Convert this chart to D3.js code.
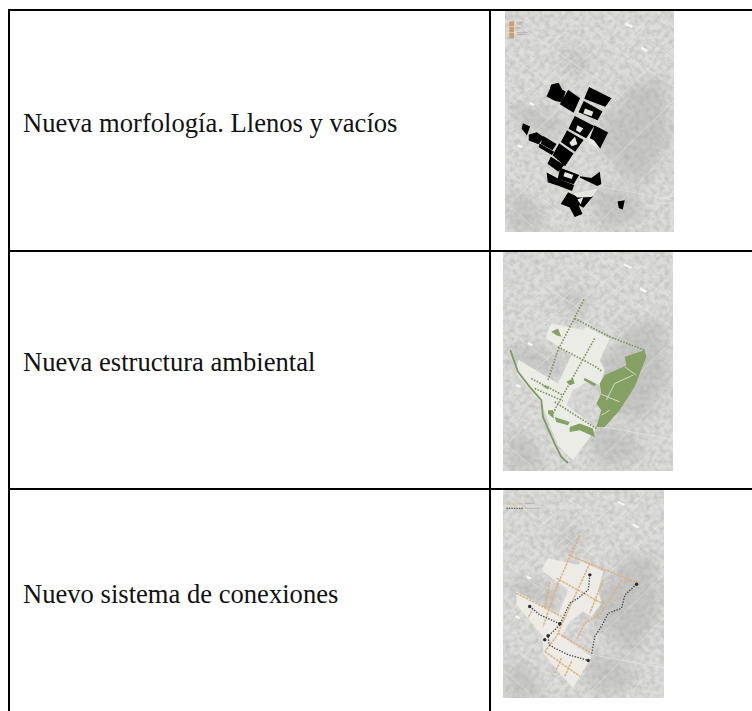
<!DOCTYPE html>
<html>
<head>
<meta charset="utf-8">
<style>
  html, body { margin: 0; padding: 0; background: #fff; overflow: hidden; }
  svg { display: block; }
  .label { font-family: "Liberation Serif", serif; font-size: 26.6px; fill: #111; }
</style>
<script src="https://cdn.jsdelivr.net/npm/d3@7"></script>
</head>
<body>
<script>
var rowLabels = ["Nueva morfología. Llenos y vacíos", "Nueva estructura ambiental", "Nuevo sistema de conexiones"];

var streets = [
  [[45,250],[300,30]], [[45,330],[390,30]], [[45,480],[520,30]], [[60,610],[552,130]], [[150,695],[552,300]],
  [[300,695],[552,440]], [[430,695],[552,570]], [[210,240],[420,60]], [[110,300],[260,170]],
  [[60,60],[400,290]], [[50,160],[300,340]], [[45,260],[180,360]], [[230,50],[552,260]],
  [[340,40],[552,175]], [[60,520],[240,660]], [[50,610],[130,680]], [[340,560],[552,600]],
  [[380,150],[470,60]], [[440,200],[530,120]], [[70,420],[120,370]], [[80,560],[170,480]]
];
var brightSpots = [
  [[408,68],[430,78],[425,84],[405,74]], [[455,140],[475,150],[470,156],[452,146]],
  [[85,432],[100,438],[95,444],[82,438]], [[120,305],[135,312],[130,318],[118,312]]
];
var darkPatches = [
  [[60,310],[150,320],[170,380],[100,390]], [[230,140],[300,170],[280,230],[210,200]],
  [[400,260],[520,230],[540,420],[460,560],[370,500]], [[350,320],[420,340],[380,480],[320,440]],
  [[300,560],[420,570],[470,650],[330,690]], [[60,560],[140,610],[170,695],[60,695]],
  [[160,330],[230,360],[200,420],[140,390]]
];

var blackBlocks = [
  [[185,255],[205,250],[215,270],[225,275],[215,305],[195,300],[172,288],[180,270]],
  [[235,272],[268,295],[250,335],[212,312]],
  [[298,263],[362,295],[345,318],[285,295]],
  [[282,305],[335,335],[322,358],[268,335]],
  [[255,350],[310,378],[288,412],[238,385]],
  [[315,378],[352,398],[330,442],[300,418]],
  [[232,393],[278,420],[255,452],[215,425]],
  [[208,432],[248,460],[225,495],[190,465]],
  [[100,372],[118,380],[110,402],[97,385]],
  [[118,405],[140,398],[160,412],[145,430],[118,420]],
  [[160,410],[197,432],[187,448],[155,430]],
  [[150,432],[190,455],[185,462],[148,440]],
  [[183,472],[220,495],[205,512],[175,490]],
  [[172,520],[210,540],[250,555],[245,570],[205,555],[175,545]],
  [[212,505],[265,525],[250,550],[205,535]],
  [[270,530],[305,535],[328,518],[332,550],[322,555]],
  [[235,578],[260,590],[305,590],[280,620],[262,610],[275,640],[255,648],[240,620],[215,610]],
  [[385,605],[402,602],[397,625],[388,622]]
];
var blockHoles = [
  [[285,325],[310,335],[305,348],[280,340]], [[225,515],[250,524],[245,536],[220,528]],
  [[262,375],[280,385],[270,398],[258,390]], [[238,428],[255,410],[262,432],[245,438]],
  [[295,412],[312,420],[330,445],[295,430]], [[250,580],[325,565],[305,590],[262,592]],
  [[262,598],[280,590],[272,612]]
];
var legendSwatches = [[[58,64],[72,64],[72,78],[58,78]], [[58,80],[72,80],[72,96],[58,96]], [[58,98],[72,98],[72,115],[58,115]]];
var legendNotes = [[[80,67],[100,67]], [[80,72],[96,72]], [[80,84],[96,84]], [[80,98],[112,98]], [[80,103],[106,103]]];

var whiteAreaGreen = [[170,285],[185,250],[280,270],[290,260],[360,295],[330,360],[345,390],[330,435],[300,420],[250,450],[230,495],[320,565],[250,660],[205,615],[155,490],[80,400],[85,358],[205,430],[245,345],[170,295]];
var parks = [
  [[405,350],[465,330],[470,350],[435,440],[390,510],[345,560],[320,560],[335,510],[320,490],[335,460],[330,430],[345,405],[390,385],[410,375]],
  [[185,275],[205,265],[215,290],[200,285]],
  [[230,425],[250,415],[255,430],[240,435]],
  [[285,413],[320,432],[315,438],[282,420]],
  [[155,435],[180,440],[175,448]],
  [[175,510],[190,510],[192,535],[175,520]],
  [[195,530],[240,545],[235,555],[200,545]],
  [[240,560],[270,550],[310,565],[315,590],[270,570],[240,575]]
];
var parkPaths = [[[350,480],[375,430],[430,405]], [[335,462],[390,485]], [[405,380],[440,405]], [[335,525],[360,510]]];
var river = [[62,330],[85,395],[120,440],[155,480],[160,530],[195,610],[215,650],[235,668]];
var greenWalks = [
  [[283,178],[205,330],[175,420]], [[255,235],[360,290],[465,330]], [[315,295],[200,500],[185,530]],
  [[205,320],[315,378],[335,392]], [[125,415],[220,465]], [[135,445],[220,482]], [[195,485],[320,565]]
];

var whiteAreaLinks = [[158,265],[175,235],[265,255],[275,245],[340,275],[325,330],[335,370],[305,410],[280,395],[240,425],[215,470],[305,530],[250,625],[210,580],[160,520],[160,470],[80,375],[80,335],[205,405],[235,330],[160,275]];
var orangeLinks = [
  [[270,165],[205,310],[160,440]], [[235,225],[445,310]], [[300,250],[200,470],[165,515]],
  [[80,340],[215,410]], [[200,295],[335,370]], [[180,305],[165,385]], [[395,300],[335,400],[285,430],[260,480]],
  [[205,460],[305,520]], [[165,515],[270,590]], [[215,535],[195,580]], [[245,545],[225,590]],
  [[130,385],[115,415]], [[340,300],[300,400]]
];
var darkLinks = [
  [[300,285],[295,330],[265,355],[240,370],[210,435],[175,470],[178,495],[195,505],[235,525],[295,542]],
  [[120,380],[150,405],[210,432]],
  [[440,313],[405,345],[395,385],[355,400],[340,430],[315,470],[305,525]]
];
var stops = [[300,285],[295,542],[120,380],[210,432],[175,468],[165,480],[440,313]];
var linkLegend = [[[50,72],[100,72]], [[50,85],[100,85]]];
var linkNotes = [[[105,70],[135,70]], [[105,85],[150,85]]];

var width = 752, height = 711;
var svg = d3.select("body").append("svg").attr("width", width).attr("height", height);
var defs = svg.append("defs");

var grain = defs.append("filter").attr("id", "grain").attr("x", 0).attr("y", 0).attr("width", 1).attr("height", 1);
grain.append("feTurbulence").attr("type", "fractalNoise").attr("baseFrequency", 0.2).attr("numOctaves", 3).attr("seed", 7);
grain.append("feColorMatrix").attr("values", "0 0 0 0 0.42  0 0 0 0 0.42  0 0 0 0 0.41  2.4 0 0 0 -0.85");
grain.append("feGaussianBlur").attr("stdDeviation", 0.7);
defs.append("filter").attr("id", "soft").append("feGaussianBlur").attr("stdDeviation", 0.7);
defs.append("filter").attr("id", "haze").attr("x", "-30%").attr("y", "-30%").attr("width", "160%").attr("height", "160%")
  .append("feGaussianBlur").attr("stdDeviation", 7);

var panels = [
  { x: [505, 674], y: [10, 232], domainX: [45, 552], domainY: [30, 695], draw: drawBlocks },
  { x: [503, 673], y: [251, 471], domainX: [40, 550], domainY: [33, 692], draw: drawGreen },
  { x: [503, 664], y: [489, 698], domainX: [40, 522], domainY: [27, 655], draw: drawLinks }
];

var line = function(xs, ys) {
  return d3.line().x(function(d) { return xs(d[0]); }).y(function(d) { return ys(d[1]); });
};

function shapes(g, data, xs, ys, fill) {
  var path = line(xs, ys).curve(d3.curveLinearClosed);
  return g.append("g").selectAll("path").data(data).enter().append("path")
    .attr("d", path).attr("fill", fill);
}

function strokes(g, data, xs, ys, color, w, dash) {
  return g.append("g").selectAll("path").data(data).enter().append("path")
    .attr("d", line(xs, ys)).attr("fill", "none").attr("stroke", color)
    .attr("stroke-width", w).attr("stroke-dasharray", dash || null);
}

function drawBlocks(g, xs, ys) {
  shapes(g, blackBlocks, xs, ys, "#050505").attr("stroke", "#050505").attr("stroke-width", 1.2);
  shapes(g, blockHoles, xs, ys, "#e6e6e2");
  shapes(g, legendSwatches, xs, ys, "#d09a6a");
  strokes(g, legendNotes, xs, ys, "#9a9a9a", 0.6);
}

function drawGreen(g, xs, ys) {
  shapes(g, [whiteAreaGreen], xs, ys, "#ecece6");
  shapes(g, parks, xs, ys, "#84a062");
  strokes(g, parkPaths, xs, ys, "#d6dcc8", 1);
  strokes(g, [river], xs, ys, "#7f9a62", 1.8);
  strokes(g, greenWalks, xs, ys, "#7d9458", 1.6, "1.6 1.4");
}

function drawLinks(g, xs, ys) {
  shapes(g, [whiteAreaLinks], xs, ys, "#ecebe6");
  strokes(g, orangeLinks, xs, ys, "#dcb27c", 1.5, "2.5 1");
  strokes(g, darkLinks, xs, ys, "#45454c", 1.3, "1.4 1.4");
  g.append("g").selectAll("circle").data(stops).enter().append("circle")
    .attr("cx", function(d) { return xs(d[0]); })
    .attr("cy", function(d) { return ys(d[1]); })
    .attr("r", 1.7).attr("fill", "#2a2a30");
  strokes(g, [linkLegend[0]], xs, ys, "#dcb27c", 1, "2 1");
  strokes(g, [linkLegend[1]], xs, ys, "#45454c", 1, "1.5 1");
  strokes(g, linkNotes, xs, ys, "#9a9a9a", 0.6);
}

panels.forEach(function(p, i) {
  var w = p.x[1] - p.x[0], h = p.y[1] - p.y[0];
  var xs = d3.scaleLinear().domain(p.domainX).range(p.x);
  var ys = d3.scaleLinear().domain(p.domainY).range(p.y);
  var baseX = d3.scaleLinear().domain([45, 552]).range(p.x);
  var baseY = d3.scaleLinear().domain([30, 695]).range(p.y);

  defs.append("clipPath").attr("id", "clip" + i).append("rect")
    .attr("x", p.x[0]).attr("y", p.y[0]).attr("width", w).attr("height", h);

  var g = svg.append("g").attr("clip-path", "url(#clip" + i + ")");
  g.append("rect").attr("x", p.x[0]).attr("y", p.y[0]).attr("width", w).attr("height", h).attr("fill", "#dcdcda");

  var hazy = g.append("g").attr("filter", "url(#haze)").attr("opacity", 0.35);
  shapes(hazy, darkPatches, baseX, baseY, "#9fa29c");

  g.append("rect").attr("x", p.x[0]).attr("y", p.y[0]).attr("width", w).attr("height", h)
    .attr("filter", "url(#grain)").attr("opacity", 0.45);

  var base = g.append("g").attr("filter", "url(#soft)");
  strokes(base, streets, baseX, baseY, "#ecece9", 1).attr("opacity", 0.45);
  shapes(base, brightSpots, baseX, baseY, "#f6f6f4");

  var marks = g.append("g").attr("filter", "url(#soft)");
  p.draw(marks, xs, ys);
});

// table frame
var frameX = [9, 490];
var frameY = [10, 251, 489];
var grid = svg.append("g").attr("stroke", "#000").attr("stroke-width", 2);
grid.selectAll(".h").data(frameY).enter().append("line")
  .attr("x1", frameX[0] - 1).attr("x2", width).attr("y1", function(d) { return d; }).attr("y2", function(d) { return d; });
grid.selectAll(".v").data(frameX).enter().append("line")
  .attr("y1", frameY[0] - 1).attr("y2", height).attr("x1", function(d) { return d; }).attr("x2", function(d) { return d; });

var baselines = [132, 371, 603];
svg.selectAll(".label").data(rowLabels).enter().append("text")
  .attr("class", "label")
  .attr("x", 23)
  .attr("y", function(d, i) { return baselines[i]; })
  .text(function(d) { return d; });
</script>
</body>
</html>
